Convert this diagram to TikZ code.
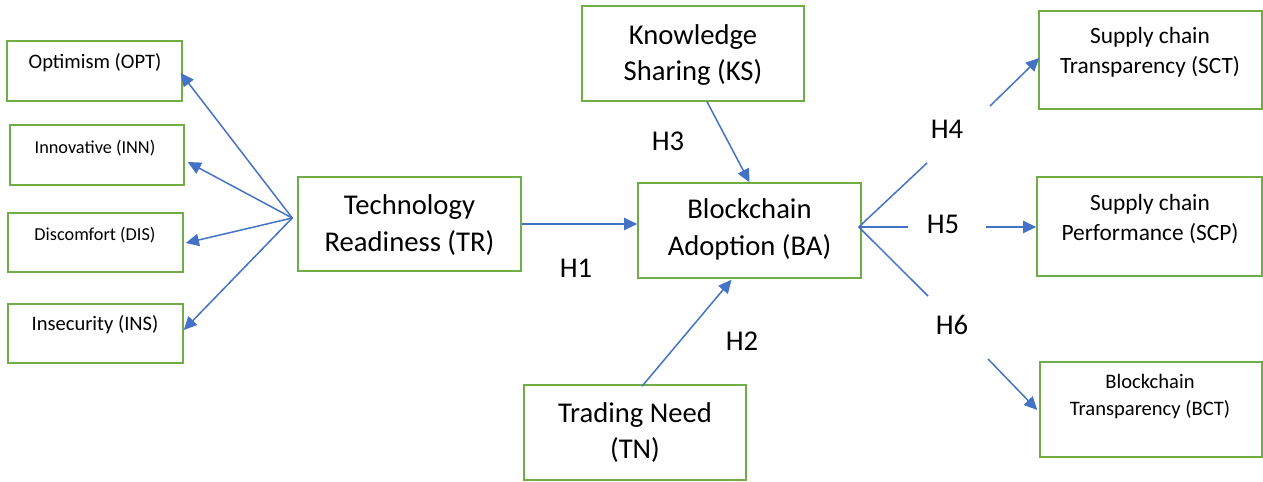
\documentclass[tikz,border=0pt]{standalone}
\usepackage{fontspec}
\setmainfont{Carlito}
\usetikzlibrary{arrows.meta,calc}
\definecolor{boxgreen}{HTML}{70AD47}
\definecolor{arrowblue}{HTML}{4472C4}

\begin{document}
\begin{tikzpicture}[x=0.02cm,y=-0.02cm,
   box/.style 2 args={draw=boxgreen,line width=0.85pt,inner sep=0pt,
     minimum width=#1*0.02cm,minimum height=#2*0.02cm},
   big/.style={font=\fontsize{16.3}{21}\selectfont,align=center,inner sep=0pt},
   mid/.style={font=\fontsize{13.3}{17}\selectfont,align=center,inner sep=0pt},
   small/.style={font=\fontsize{11.7}{15.3}\selectfont,align=center,inner sep=0pt},
   tiny/.style={font=\fontsize{10.4}{14}\selectfont,align=center,inner sep=0pt},
   link/.style={arrowblue,line width=0.85pt},
   arr/.style={link,-{Triangle[length=7.5pt,width=7pt]}}]
   \useasboundingbox (0,0) rectangle (1263,481);
   % left column
   \node[box={175}{60}] (opt) at (94.5,71) {};
   \node[box={174}{60}] (inn) at (97,155) {};
   \node[box={175}{59}] (dis) at (95.5,242.5) {};
   \node[box={175}{59}] (ins) at (95.5,333.5) {};
   \node[small] (optt) at (95,63) {Optimism (OPT)};
   \node[tiny] (innt) at (95,148) {Innovative (INN)};
   \node[tiny] (dist) at (95,235) {Discomfort (DIS)};
   \node[small] (inst) at (95,325) {Insecurity (INS)};
   % middle
   \node[box={223}{94}] (tr) at (409.5,224) {};
   \node[box={222}{95}] (ks) at (693,53.5) {};
   \node[box={223}{95}] (ba) at (749.5,230.5) {};
   \node[box={222}{95}] (tn) at (635,432.5) {};
   \node[big] (trt) at (409.5,225) {Technology\\Readiness (TR)};
   \node[big] (kst) at (693,55) {Knowledge\\Sharing (KS)};
   \node[big] (bat) at (749.5,229) {Blockchain\\Adoption (BA)};
   \node[big] (tnt) at (635,432.5) {Trading Need\\(TN)};
   % right column
   \node[box={223}{98}] (sct) at (1150.5,60) {};
   \node[box={225}{99}] (scp) at (1149.5,226.5) {};
   \node[box={222}{95}] (bct) at (1151,409.5) {};
   \node[mid] (sctt) at (1150,52) {Supply chain\\Transparency (SCT)};
   \node[mid] (scpt) at (1150,219) {Supply chain\\Performance (SCP)};
   \node[small] (bctt) at (1150,396.5) {Blockchain\\Transparency (BCT)};
   % hypothesis labels
   \node[big] (h1) at (576,268) {H1};
   \node[big] (h2) at (742,341) {H2};
   \node[big] (h3) at (668,141) {H3};
   \node[big] (h4) at (947,129) {H4};
   \node[big] (h5) at (943,224) {H5};
   \node[big] (h6) at (952,325) {H6};

   % technology readiness dimensions
   \coordinate (trl) at ($(tr.west)+(-5,-6)$);
   \draw[arr] (trl) -- ($(opt.east)+(-2,2)$);
   \draw[arr] (trl) -- ($(inn.east)+(3,7)$);
   \draw[arr] (trl) -- ($(dis.east)+(2,0.5)$);
   \draw[arr] (trl) -- ($(ins.east)+(0,-3.5)$);
   % antecedents of adoption
   \draw[arr] (tr.east) -- (tr.east -| ba.west);
   \draw[arr] ($(ks.south)+(14,0)$) -- (ba.north);
   \draw[arr] ($(tn.north)+(7,2)$) -- ($(ba.south)+(-18,1)$);
   % outcomes
   \coordinate (bar) at ($(ba.east)+(-3,-3.5)$);
   \coordinate (h4a) at (927,163);
   \coordinate (h4b) at (990,106);
   \coordinate (h5a) at (908,227);
   \coordinate (h5b) at (986,227);
   \coordinate (h6a) at (928,296);
   \coordinate (h6b) at (988,359);
   \draw[link] (bar) -- (h4a);
   \draw[arr] (h4b) -- ($(sct.west)+(1,-2)$);
   \draw[link] (bar) -- (h5a);
   \draw[arr] (h5b) -- (h5b -| scp.west);
   \draw[link] (bar) -- (h6a);
   \draw[arr] (h6b) -- ($(bct.west)+(-2,0.5)$);
\end{tikzpicture}
\end{document}
